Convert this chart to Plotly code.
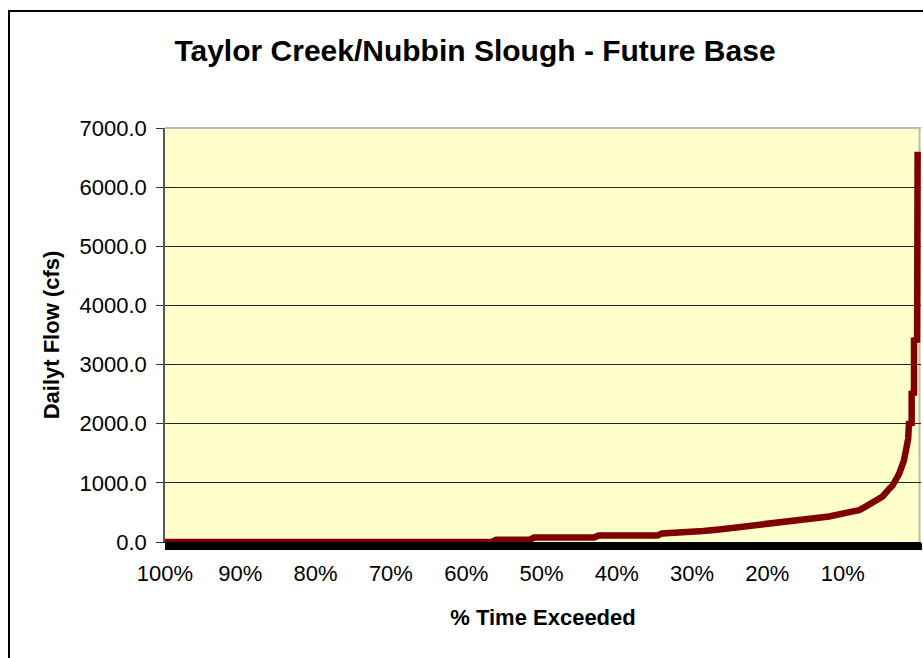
import plotly.graph_objects as go

# Data
exceedance_pct = [100, 56.6, 56.0, 51.5, 51.0, 43.0, 42.4, 34.6, 34.0, 30.4, 28.5, 26.4,
                  23.7, 20.2, 17.1, 14.5, 11.8, 9.1, 7.8, 6.9, 5.2, 4.7, 3.8, 3.4, 2.74,
                  2.5, 1.86, 1.6, 1.3, 1.2, 0.84, 0.84, 0.53, 0.53, 0.12, 0.05]
flow_cfs = [0, 0, 40, 40, 75, 75, 110, 110, 145, 160, 185, 212,
            251, 291, 336, 381, 432, 505, 540, 602, 732, 770, 902, 950, 1098,
            1156, 1381, 1550, 1750, 2000, 2010, 2510, 2520, 3410, 3420, 6600]

x_tick_vals = [100, 90, 80, 70, 60, 50, 40, 30, 20, 10]
x_tick_text = ["100%", "90%", "80%", "70%", "60%", "50%", "40%", "30%", "20%", "10%"]
y_tick_vals = [0, 1000, 2000, 3000, 4000, 5000, 6000, 7000]

title_text = "Taylor Creek/Nubbin Slough - Future Base"
x_title = "% Time Exceeded"
y_title = "Dailyt Flow (cfs)"

W, H = 923, 658
L, R, T, B = 165, 2, 128, 116
pw, ph = W - L - R, H - T - B

fig = go.Figure()
fig.add_trace(go.Scatter(
    x=exceedance_pct, y=flow_cfs, mode="lines",
    line=dict(color="#800000", width=6.5), showlegend=False,
))

font = "Arial, Liberation Sans, sans-serif"

fig.update_layout(
    width=W, height=H,
    margin=dict(l=L, r=R, t=T, b=B),
    paper_bgcolor="white",
    plot_bgcolor="#FFFFCC",
    title=dict(text="<b>" + title_text + "</b>", x=475 / W, xanchor="center",
               y=1 - 50 / H, yanchor="middle",
               font=dict(family=font, size=30, color="black")),
    xaxis=dict(
        range=[100, -0.4], tickvals=x_tick_vals, ticktext=x_tick_text,
        ticks="outside", ticklen=7, tickwidth=1, tickcolor="black",
        minor=dict(dtick=0.1, ticks="outside", ticklen=7, tickwidth=1, tickcolor="black", showgrid=False),
        showgrid=False, zeroline=False, showline=True, linecolor="black", linewidth=1,
        ticklabelstandoff=5,
        tickfont=dict(family=font, size=22, color="black"),
        title=dict(text="<b>" + x_title + "</b>", font=dict(family=font, size=22, color="black"),
                   standoff=24),
    ),
    yaxis=dict(
        range=[0, 7000], tickvals=y_tick_vals, tickformat=".1f",
        ticks="outside", ticklen=7, tickwidth=1, tickcolor="#333333",
        showgrid=True, gridcolor="#222222", gridwidth=1,
        zeroline=False, showline=True, linecolor="#555555", linewidth=1.5,
        ticklabelstandoff=5,
        tickfont=dict(family=font, size=22, color="black"),
        title=dict(text="<b>" + y_title + "</b>", font=dict(family=font, size=22, color="black"),
                   standoff=14),
    ),
)

# Plot area border (gray, Excel style) top and right edge at 0 %
fig.add_shape(type="line", xref="paper", yref="paper", x0=0, x1=1, y0=1, y1=1,
              line=dict(color="#BBBBBB", width=2))
fig.add_shape(type="line", xref="x", yref="paper", x0=-0.2, x1=-0.2, y0=0, y1=1,
              line=dict(color="#BBBBBB", width=2), layer="below")

# Outer chart frame
fig.add_shape(type="rect", xref="paper", yref="paper",
              x0=(9 - L) / pw, x1=(W + 10 - L) / pw,
              y0=(H - B - (H + 10)) / ph, y1=(H - B - 11) / ph,
              line=dict(color="black", width=2), layer="above")

fig.write_html("out.html", config={"displayModeBar": False},
               post_script="document.body.style.margin='0px';document.body.style.overflow='hidden';")
